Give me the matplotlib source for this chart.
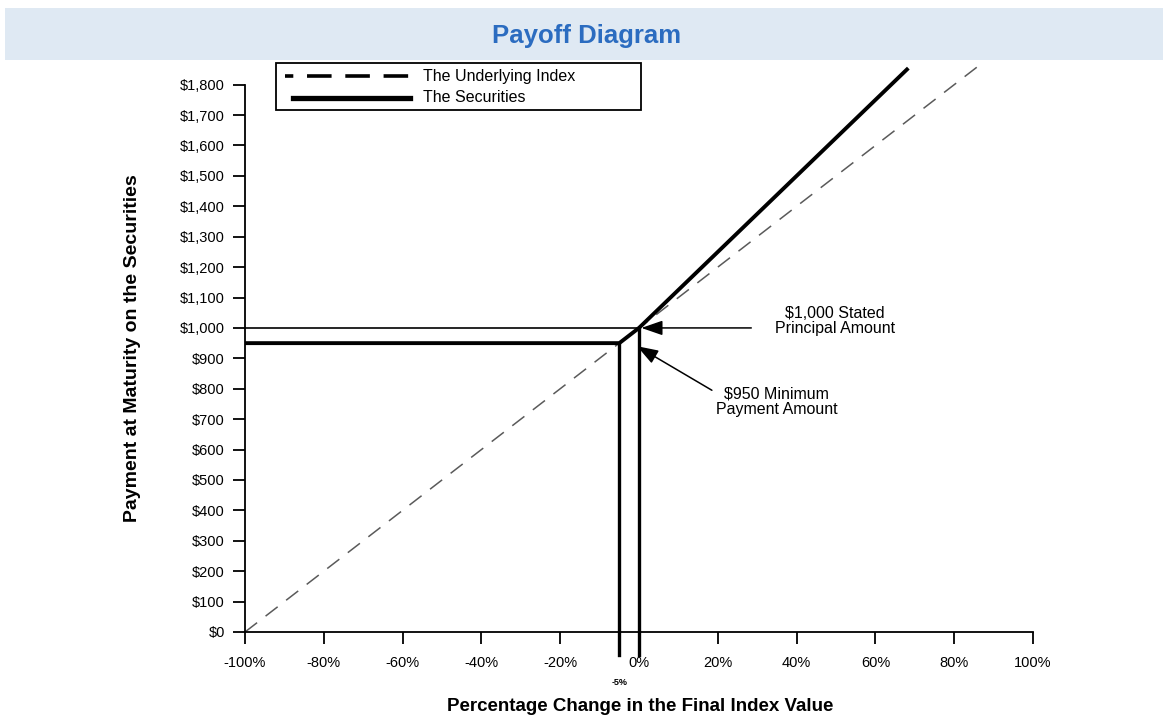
import matplotlib
matplotlib.use("Agg")
import matplotlib.pyplot as plt
from matplotlib.lines import Line2D
from matplotlib.patches import Rectangle

plt.rcParams['font.family'] = ['Liberation Sans', 'DejaVu Sans']

# ---- data ----
title = "Payoff Diagram"
x_ticks = [-100, -80, -60, -40, -20, 0, 20, 40, 60, 80, 100]
x_tick_labels = ["-100%", "-80%", "-60%", "-40%", "-20%", "0%", "20%", "40%", "60%", "80%", "100%"]
y_ticks = [0, 100, 200, 300, 400, 500, 600, 700, 800, 900, 1000,
           1100, 1200, 1300, 1400, 1500, 1600, 1700, 1800]
y_tick_labels = ["$0", "$100", "$200", "$300", "$400", "$500", "$600", "$700", "$800",
                 "$900", "$1,000", "$1,100", "$1,200", "$1,300", "$1,400", "$1,500",
                 "$1,600", "$1,700", "$1,800"]
underlying_x = [-100, 86]
underlying_y = [0, 1860]
securities_x = [-100, -5, 0, 68]
securities_y = [950, 950, 1000, 1850]
principal = 1000
minimum = 950
buffer_pct = -5
label_underlying = "The Underlying Index"
label_securities = "The Securities"

W, H = 1163, 717
fig = plt.figure(figsize=(W / 100, H / 100), dpi=100)


def fx(px):
    return px / W


def fy(py):
    return 1 - py / H


# title bar
fig.patches.append(Rectangle((fx(5), fy(60)), 1 - fx(5), 52 / H, transform=fig.transFigure,
                             facecolor="#dfe9f3", edgecolor="none", zorder=0))
fig.text(fx(587), fy(36), title, ha="center", va="center", fontsize=18.5,
         fontweight="bold", color="#2b6cc0")

ax = fig.add_axes([fx(245), fy(632), (1033 - 245) / W, (632 - 64) / H])
ax.set_xlim(-100, 100)
ax.set_ylim(0, 1868)

# lines
ax.plot(underlying_x, underlying_y, color="#5a5a5a", lw=1.1, dashes=(10, 7), zorder=2)
ax.plot(securities_x, securities_y, color="black", lw=2.8, solid_joinstyle="miter", zorder=3)
ax.plot([-100, 0], [principal, principal], color="black", lw=1.2, zorder=3)
ax.plot([buffer_pct, buffer_pct], [minimum, -75], color="black", lw=2.4, clip_on=False, zorder=3)
ax.plot([0, 0], [principal, -75], color="black", lw=2.4, clip_on=False, zorder=3)

# spines / ticks
for s in ["top", "right"]:
    ax.spines[s].set_visible(False)
ax.spines["left"].set_bounds(0, 1800)
ax.spines["bottom"].set_bounds(-100, 100)
ax.spines["left"].set_linewidth(1.3)
ax.spines["bottom"].set_linewidth(1.3)
ax.set_xticks(x_ticks)
ax.set_xticklabels(x_tick_labels)
ax.set_yticks(y_ticks)
ax.set_yticklabels(y_tick_labels)
ax.tick_params(axis="both", direction="out", length=8.5, width=1.3, labelsize=10.5)
ax.tick_params(axis="y", pad=6)
ax.tick_params(axis="x", pad=9)

ax.set_ylabel("Payment at Maturity on the Securities", fontsize=14, fontweight="bold",
              labelpad=28)
fig.text(fx(640), fy(698), "Percentage Change in the Final Index Value", ha="center",
         va="top", fontsize=13.5, fontweight="bold")
ax.text(buffer_pct, -165, "-5%", ha="center", va="center", fontsize=6.5, fontweight="bold",
        clip_on=False)

# annotations
arrow = dict(arrowstyle="-|>,head_length=1.3,head_width=0.45", color="black", lw=1.1,
             shrinkA=0, shrinkB=0)
ax.annotate("", xy=(0.6, principal), xytext=(28.5, principal), arrowprops=arrow)
ax.text(49.7, 1023, "$1,000 Stated\nPrincipal Amount", ha="center", va="center",
        fontsize=11.5, linespacing=1.05)
ax.annotate("", xy=(-0.5, 940), xytext=(18.5, 795), arrowprops=arrow)
ax.text(35, 757, "$950 Minimum\nPayment Amount", ha="center", va="center", fontsize=11.5,
        linespacing=1.05)

# legend (drawn as a boxed key)
fig.patches.append(Rectangle((fx(276), fy(110)), (641 - 276) / W, (110 - 63) / H,
                             transform=fig.transFigure, facecolor="white", edgecolor="black",
                             lw=1.3, zorder=5))
fig.lines.append(Line2D([fx(285), fx(410)], [fy(76), fy(76)], transform=fig.transFigure,
                        color="black", lw=2.6, linestyle=(4.5, (6.8, 3.8)), zorder=6))
fig.lines.append(Line2D([fx(293), fx(410)], [fy(98), fy(98)], transform=fig.transFigure,
                        color="black", lw=3.8, zorder=6))
fig.text(fx(423), fy(76), label_underlying, ha="left", va="center", fontsize=11.5, zorder=7)
fig.text(fx(423), fy(98), label_securities, ha="left", va="center", fontsize=11.5, zorder=7)

fig.savefig("out.png", dpi=100)
